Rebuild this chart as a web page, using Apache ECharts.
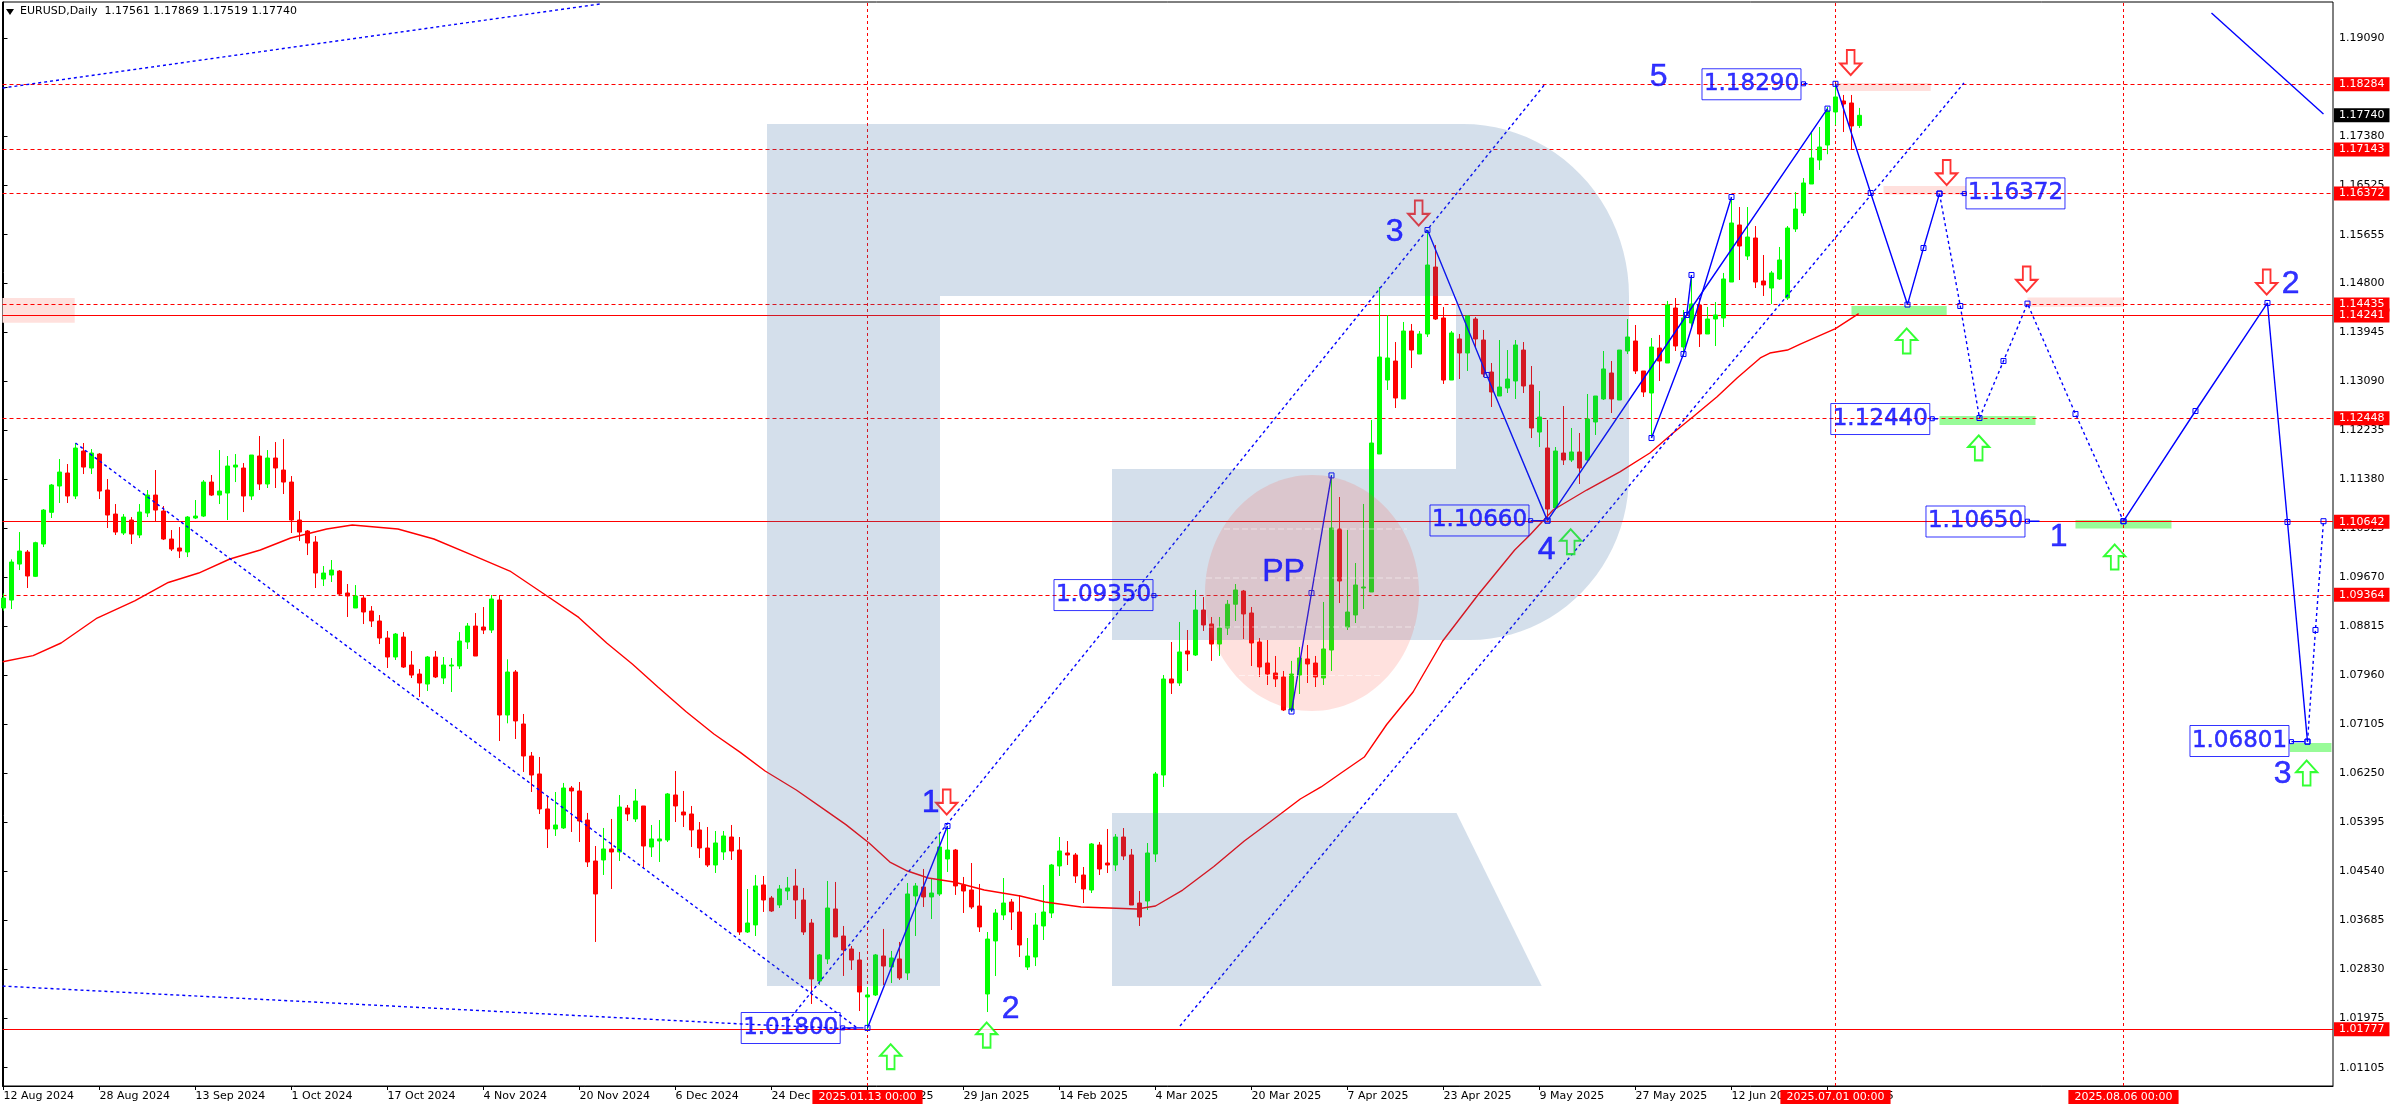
<!DOCTYPE html>
<html><head><meta charset="utf-8"><title>EURUSD,Daily</title>
<style>html,body{margin:0;padding:0;background:#fff}#c{width:2396px;height:1110px}</style>
<script src="https://cdn.jsdelivr.net/npm/echarts@6/dist/echarts.min.js"></script>
</head><body><div id="c"></div><script>
const opens=[1.09134,1.09273,1.09902,1.10112,1.09687,1.10252,1.10805,1.11265,1.11492,1.1109,
1.11876,1.11579,1.11823,1.11195,1.10775,1.10444,1.10671,1.10409,1.10793,1.11107,
1.10828,1.10339,1.10182,1.10112,1.10706,1.1074,1.11334,1.11107,1.11142,1.11596,
1.11579,1.1109,1.11789,1.113,1.11754,1.11544,1.11334,1.10671,1.10479,1.10287,
1.0964,1.0971,1.0978,1.09396,1.09134,1.09308,1.09081,1.08907,1.0861,1.08278,
1.08627,1.08138,1.07981,1.07806,1.08278,1.07911,1.08121,1.08121,1.0854,1.08819,
1.08802,1.08749,1.09274,1.07265,1.08016,1.07108,1.06549,1.06235,1.05624,1.05274,
1.05292,1.0599,1.05938,1.05431,1.04715,1.04733,1.04925,1.04873,1.0564,1.05449,
1.05676,1.0496,1.05065,1.05082,1.05868,1.05571,1.05536,1.05257,1.04942,1.04645,
1.04873,1.05134,1.04907,1.03475,1.03598,1.04296,1.04069,1.03947,1.04191,1.04279,
1.04034,1.03632,1.02619,1.03004,1.03877,1.03405,1.03178,1.02986,1.0234,1.02375,
1.03056,1.02864,1.03004,1.02759,1.04104,1.04261,1.04087,1.04139,1.0475,1.04907,
1.04296,1.04209,1.03929,1.02392,1.03318,1.03772,1.03999,1.03824,1.02863,1.03038,
1.0358,1.03807,1.04628,1.04855,1.0482,1.0447,1.04208,1.04994,1.0468,1.04645,
1.05134,1.0482,1.03981,1.04016,1.04837,1.06217,1.07894,1.07824,1.08383,1.08313,
1.09099,1.08855,1.08505,1.08785,1.0920,1.09431,1.09047,1.0854,1.08173,1.07999,
1.07929,1.07353,1.07964,1.08244,1.08173,1.07912,1.084,1.10514,1.08802,1.09012,
1.09483,1.09414,1.11824,1.13116,1.13448,1.12785,1.13972,1.1357,1.1392,1.1509,
1.142,1.13116,1.13833,1.13588,1.14182,1.13815,1.13256,1.12837,1.12977,1.13099,
1.1364,1.13029,1.12208,1.11929,1.10881,1.11841,1.11719,1.11859,1.11719,1.12383,
1.12785,1.13239,1.12767,1.13623,1.13798,1.13274,1.12889,1.13675,1.13413,1.14374,
1.13693,1.14112,1.14427,1.1392,1.14182,1.142,1.14828,1.15824,1.15282,1.15597,
1.14846,1.14723,1.14881,1.14549,1.15754,1.16034,1.1654,1.16959,1.17221,1.17798,
1.1799,1.17955,1.17561];
const highs=[1.0939,1.09984,1.10461,1.10147,1.10292,1.10863,1.113,1.11736,1.11649,1.12016,
1.12016,1.11911,1.11841,1.11387,1.1095,1.10775,1.10723,1.1095,1.11195,1.11544,
1.10915,1.10496,1.10548,1.1074,1.1102,1.11369,1.11457,1.11893,1.11789,1.11823,
1.11666,1.11806,1.12138,1.11893,1.12033,1.12085,1.11439,1.10828,1.10496,1.10391,
1.09867,1.09972,1.09797,1.09553,1.09535,1.09361,1.09168,1.09011,1.08732,1.08697,
1.08714,1.08383,1.08068,1.08295,1.08383,1.08278,1.0826,1.08714,1.08872,1.09046,
1.09151,1.09361,1.09361,1.08238,1.08051,1.07283,1.06619,1.06532,1.05833,1.0592,
1.06078,1.06025,1.06095,1.05554,1.04977,1.05292,1.05449,1.05868,1.05693,1.05973,
1.05676,1.05344,1.05431,1.05903,1.06287,1.05938,1.05676,1.05396,1.05309,1.05239,
1.05239,1.05344,1.05134,1.04226,1.04471,1.04453,1.04104,1.04296,1.04436,1.04576,
1.04244,1.03702,1.03091,1.04366,1.04349,1.0358,1.03231,1.03126,1.02515,1.03091,
1.03528,1.03144,1.03301,1.04331,1.04331,1.04576,1.04418,1.05204,1.05327,1.04925,
1.04436,1.0468,1.04314,1.03475,1.03876,1.04418,1.04051,1.04121,1.0337,1.03807,
1.04296,1.04663,1.05134,1.05064,1.04855,1.0461,1.05029,1.05047,1.05274,1.05186,
1.05291,1.04925,1.04191,1.05029,1.0627,1.07964,1.0854,1.0889,1.0875,1.09449,
1.09326,1.08977,1.08977,1.09274,1.09553,1.09449,1.09152,1.0861,1.08575,1.08296,
1.08034,1.0821,1.08453,1.08488,1.08296,1.09239,1.11457,1.11073,1.10497,1.0992,
1.10951,1.12418,1.14741,1.14252,1.1378,1.1413,1.14095,1.13972,1.15736,1.15475,
1.14392,1.13972,1.1392,1.14252,1.14217,1.1399,1.13413,1.13815,1.1364,1.13815,
1.1378,1.13361,1.12924,1.12418,1.11946,1.12662,1.12278,1.12191,1.12872,1.12837,
1.13623,1.13448,1.1364,1.14182,1.14077,1.13274,1.1385,1.13903,1.14497,1.14549,
1.14339,1.14951,1.14549,1.14392,1.14479,1.14986,1.16313,1.16138,1.16138,1.15806,
1.153,1.15021,1.1544,1.15806,1.164,1.16645,1.17448,1.17536,1.17885,1.1829,
1.18095,1.18095,1.17869];
const lows=[1.09087,1.09116,1.09797,1.09483,1.09675,1.10199,1.10706,1.10968,1.10968,1.11037,
1.11474,1.11474,1.11037,1.10531,1.10409,1.10409,1.10252,1.10356,1.10723,1.10653,
1.10321,1.10129,1.10007,1.10024,1.10688,1.10723,1.1109,1.1095,1.10671,1.11334,
1.1081,1.1102,1.11195,1.1123,1.1123,1.11125,1.10444,1.10304,1.10059,1.09483,
1.09518,1.09588,1.09343,1.08977,1.09134,1.08854,1.08802,1.08505,1.08086,1.08226,
1.08086,1.07911,1.07579,1.07684,1.07911,1.07806,1.07667,1.08068,1.08418,1.08295,
1.08679,1.08697,1.06811,1.0712,1.06846,1.0627,1.0592,1.05536,1.04942,1.05152,
1.05274,1.05222,1.05047,1.0461,1.03301,1.04471,1.04226,1.04715,1.05414,1.05396,
1.04593,1.04785,1.04698,1.05047,1.05396,1.05309,1.0496,1.04768,1.0461,1.04506,
1.04733,1.04733,1.03423,1.03458,1.03405,1.03825,1.03825,1.03894,1.04034,1.03702,
1.03423,1.02218,1.0255,1.02916,1.03388,1.02707,1.02812,1.02095,1.01764,1.02357,
1.0255,1.02584,1.02637,1.02637,1.03405,1.03912,1.03702,1.04104,1.04523,1.04122,
1.03807,1.03877,1.03475,1.02077,1.02706,1.03684,1.0351,1.03038,1.02811,1.0288,
1.03335,1.03719,1.04453,1.04645,1.04331,1.03981,1.04156,1.0447,1.04505,1.0454,
1.04732,1.03946,1.0358,1.03859,1.04697,1.06008,1.07632,1.07772,1.08034,1.08296,
1.08733,1.0821,1.08296,1.08663,1.08907,1.08593,1.08121,1.07929,1.07789,1.07754,
1.07335,1.07327,1.07632,1.07824,1.07754,1.07789,1.08034,1.09221,1.0875,1.08872,
1.09117,1.09414,1.11824,1.12942,1.12627,1.12785,1.13326,1.1357,1.13868,1.14165,
1.13047,1.13116,1.13134,1.13274,1.13693,1.13169,1.12645,1.12837,1.12889,1.12785,
1.12889,1.12103,1.11946,1.10671,1.10846,1.11632,1.11684,1.113,1.11684,1.12156,
1.12767,1.1254,1.12767,1.1357,1.13221,1.1282,1.12103,1.13099,1.13413,1.13623,
1.13536,1.14025,1.13693,1.1392,1.1371,1.14042,1.14828,1.14863,1.15213,1.14723,
1.14584,1.14444,1.14863,1.14514,1.15702,1.15981,1.1654,1.16785,1.1706,1.17571,
1.17448,1.17151,1.17519];
const closes=[1.09308,1.09937,1.10129,1.09693,1.10275,1.10845,1.11282,1.11509,1.1109,1.11928,
1.11596,1.11841,1.11177,1.10758,1.10461,1.10723,1.10426,1.1081,1.11107,1.10845,
1.10339,1.10164,1.10129,1.10723,1.1074,1.11334,1.11107,1.11177,1.11614,1.11631,
1.1109,1.11806,1.113,1.11754,1.11579,1.11334,1.10671,1.10461,1.10269,1.09745,
1.09745,1.09797,1.09378,1.09343,1.09343,1.09064,1.08907,1.0861,1.08278,1.08679,
1.08103,1.07963,1.07824,1.08278,1.07929,1.08138,1.08138,1.08557,1.08819,1.08295,
1.08749,1.09291,1.07265,1.08016,1.07161,1.06549,1.06217,1.05624,1.05274,1.05344,
1.0599,1.05938,1.05414,1.04698,1.04139,1.04925,1.04873,1.05658,1.05536,1.05763,
1.04977,1.051,1.051,1.05886,1.05676,1.05519,1.05257,1.04942,1.04645,1.0503,
1.05152,1.0489,1.03475,1.03632,1.04279,1.04034,1.03842,1.04226,1.04244,1.04034,
1.03475,1.02654,1.03074,1.03894,1.03388,1.03161,1.02986,1.02427,1.02375,1.03074,
1.02881,1.03021,1.02672,1.04139,1.04279,1.04087,1.04156,1.0496,1.04907,1.04279,
1.04191,1.03912,1.03563,1.03352,1.03807,1.03981,1.03824,1.03248,1.03055,1.03597,
1.03824,1.04645,1.0489,1.0482,1.04453,1.04226,1.05012,1.04575,1.04645,1.05134,
1.04802,1.03946,1.03736,1.04855,1.06235,1.07894,1.07824,1.08366,1.08331,1.09099,
1.08837,1.08505,1.08785,1.0920,1.09449,1.0903,1.08523,1.08104,1.07981,1.07894,
1.07353,1.07981,1.08261,1.08156,1.07929,1.08418,1.10531,1.09606,1.09064,1.09536,
1.09501,1.12016,1.13518,1.13501,1.12802,1.13972,1.1364,1.1392,1.15125,1.14182,
1.13116,1.13938,1.13588,1.14235,1.13833,1.13221,1.12907,1.12994,1.13134,1.13728,
1.13012,1.12278,1.1247,1.10863,1.11876,1.11719,1.11859,1.11579,1.12435,1.12837,
1.13309,1.12785,1.1364,1.13868,1.13274,1.12907,1.13693,1.13448,1.14427,1.1371,
1.142,1.14444,1.1392,1.14182,1.14252,1.14881,1.15859,1.15457,1.15614,1.14828,
1.14776,1.14986,1.15213,1.15771,1.16103,1.16558,1.16994,1.17186,1.17815,1.1806,
1.17937,1.17553,1.1774];

const maBars=[-0.1,3.7,7.2,11.7,16.4,20.6,24.4,28.3,32.1,35.9,40.4,43.6,49.3,53.8,58.9,63.3,67.2,71.9,75.4,78.6,81.8,85.3,88.8,92.1,95.2,99.1,102.8,105.3,108.2,110.8,113,115.6,118.8,122.6,127.1,130.2,134.7,141.7,144,147.4,151.3,155.1,158.3,162.1,164.7,167.2,170.1,172.9,176.2,179.9,184.4,188.9,190.8,193.7,197.9,202.1,205.8,208.7,211.2,214.2,216.7,219.6,220.8,223,224.6,229,231.9];
const maValues=[1.08196,1.08303,1.08523,1.08959,1.09257,1.0958,1.09745,1.0999,1.10147,1.10357,1.10514,1.10584,1.10514,1.10339,1.10042,1.0978,1.09414,1.0897,1.08523,1.08156,1.07754,1.07326,1.06933,1.06612,1.06287,1.05955,1.05595,1.05351,1.05029,1.04697,1.0454,1.04418,1.04348,1.04208,1.04104,1.03999,1.03911,1.03876,1.03929,1.04208,1.04619,1.05064,1.05396,1.05798,1.06008,1.06252,1.06531,1.07099,1.07667,1.08558,1.09379,1.10147,1.10409,1.10846,1.11195,1.11515,1.11841,1.12191,1.12475,1.12825,1.13151,1.13501,1.13588,1.1364,1.13745,1.14015,1.14276];

const yTicks=[1.01105,1.01975,1.0283,1.03685,1.0454,1.05395,1.0625,1.07105,1.0796,1.08815,1.0967,1.10525,1.1138,1.12235,1.1309,1.13945,1.148,1.15655,1.16525,1.1738,1.18235,1.1909];
const xTickBars=[0,12,24,36,48,60,72,84,96,108,120,132,144,156,168,180,192,204,216,228];
const xTickLabels=['12 Aug 2024','28 Aug 2024','13 Sep 2024','1 Oct 2024','17 Oct 2024','4 Nov 2024','20 Nov 2024','6 Dec 2024','24 Dec 2024','13 Jan 2025','29 Jan 2025','14 Feb 2025','4 Mar 2025','20 Mar 2025','7 Apr 2025','23 Apr 2025','9 May 2025','27 May 2025','12 Jun 2025','30 Jun 2025'];

const dashedLevels=[1.18284,1.17143,1.16372,1.14435,1.12448,1.09364];
const solidLevels=[1.14241,1.10642,1.01777];
const lastPrice=1.1774;
const timeLines=[[108,'2025.01.13 00:00'],[229,'2025.07.01 00:00'],[265,'2025.08.06 00:00']];

const dottedTrends=[
 [[-0.12,1.18217],[74.56,1.19684]],
 [[9,1.12016],[106.7,1.018]],
 [[-0.12,1.0253],[92.3,1.01868],[106.7,1.0178]],
 [[98.06,1.0192],[192.8,1.18304]],
 [[147.06,1.01833],[245.06,1.18304]]
];
const solidWaves=[
 [[108,1.018],[118,1.05326]],
 [[161,1.07326],[163.5,1.09396],[166,1.1145]],
 [[178,1.15736],[185.4,1.13204],[193,1.1066]],
 [[193,1.1066],[210.4,1.14252],[228,1.17857]],
 [[206,1.12103],[210,1.1357],[216,1.16313]],
 [[210.4,1.14252],[211,1.14951]],
 [[229,1.1829],[233.4,1.16383],[238,1.14434],[240,1.15422],[242,1.16372]],
 [[265,1.1065],[274,1.12575],[283,1.14462],[285.5,1.10636],[288,1.068]]
];
const dottedWaves=[
 [[242,1.16372],[244.6,1.14409],[247,1.12453],[250,1.13448],[253,1.14451],[259,1.12523],[265,1.1065]],
 [[288,1.068],[289,1.0875],[290,1.1065]]
];
const plainSolid=[[276,1.19527],[290,1.17763]];
const leaders=[
 [[104.9,1.018],[107.5,1.018]],[[143.8,1.0935],[144.3,1.0935]],[[190.9,1.1066],[192.7,1.1066]],
 [[225,1.1829],[225.5,1.1829]],[[245.1,1.16372],[244.6,1.16372]],[[241.1,1.1244],[241.8,1.1244]],
 [[253,1.1065],[254.5,1.1065]],[[286,1.068],[287.6,1.068]]
];
const priceBoxes=[['1.01800',98.4,1.01798],['1.09350',137.5,1.0936],['1.10660',184.5,1.10663],['1.18290',218.5,1.18282],['1.16372',251.5,1.16376],['1.12440',234.6,1.12435],['1.10650',246.5,1.10645],['1.06801',279.5,1.06811]];
const waveTexts=[['1',115.9,1.05733],['2',125.9,1.02123],['PP',160,1.09766],['3',173.9,1.15702],['4',192.9,1.10147],['5',206.9,1.18413],['1',256.9,1.10365],['2',285.9,1.14783],['3',284.9,1.06235]];
const downArrows=[[117.9,1.05746],[176.9,1.16034],[230.9,1.18662],[242.9,1.16741],[252.9,1.14881],[282.9,1.14828]];
const upArrows=[[110.9,1.01297],[122.9,1.01675],[195.9,1.10292],[237.9,1.13798],[246.9,1.11931],[263.9,1.10025],[287.9,1.06252]];
const pinkZones=[[-0.2,8.9,1.14549,1.14117],[229,240.9,1.18304,1.18164],[235,245.3,1.16505,1.16355],[253,265,1.14558,1.14395]];
const greenZones=[[231,242.9,1.14409,1.14252],[242,254,1.12488,1.12331],[259,271,1.10671,1.10521],[285.8,291,1.06776,1.06619]];

const BLUE='#0000ff',RED='#ff0000',GREEN='#00ff00',MONO='"DejaVu Sans"';
const candleData=opens.map((o,i)=>[i,o,closes[i],lows[i],highs[i]]);
const tagStyle=(bg)=>({show:true,position:'end',distance:1,color:'#fff',backgroundColor:bg,fontFamily:MONO,fontSize:11,padding:[1,5,1,5],lineHeight:12,formatter:p=>p.value.toFixed(5)});
const levelItem=(v,dash)=>({yAxis:v,lineStyle:{color:RED,width:1.2,type:dash?[4,3]:'solid'},label:tagStyle(RED)});
const zone=(z,c)=>[{xAxis:z[0],yAxis:z[2],itemStyle:{color:c,opacity:1}},{xAxis:z[1],yAxis:z[3]}];
const lineOf=(pts,dash,mark)=>({type:'line',data:pts,z:4,silent:true,animation:false,
 lineStyle:{color:BLUE,width:1.4,type:dash?[3,3]:'solid'},
 showSymbol:!!mark,symbol:'rect',symbolSize:5,
 itemStyle:{color:'rgba(0,0,0,0)',borderColor:BLUE,borderWidth:1},emphasis:{disabled:true}});
const textSeries=(rows,label)=>({type:'scatter',symbolSize:1,z:60,silent:true,
 itemStyle:{color:'rgba(0,0,0,0)'},
 data:rows.map(r=>({name:r[0],value:[r[1],r[2]]})),
 label:Object.assign({show:true,position:'inside',formatter:'{b}',color:BLUE,textBorderColor:BLUE,textBorderWidth:0.5},label)});
const arrowSeries=(pts,path,color)=>({type:'scatter',symbol:path,symbolSize:[21,25],z:5,silent:true,data:pts,
 itemStyle:{color:'#ffffff',borderColor:color,borderWidth:2}});

const arc=(cx,cy,rx,ry,a0,a1)=>{const o=[];for(let k=0;k<=24;k++){const a=(a0+(a1-a0)*k/24)*Math.PI/180;o.push([cx+rx*Math.cos(a),cy+ry*Math.sin(a)]);}return o;};
const rBody=[[767,124],...arc(1463,296,166,172,-90,0),...arc(1470,475,159,165,0,90),[1112,640],[1112,469],[1456,469],[1456,296],[940,296],[940,986],[767,986]];
const wm=[{type:'polygon',z:50,silent:true,shape:{points:rBody},style:{fill:'rgba(60,110,165,0.22)'}},
 {type:'polygon',z:50,silent:true,shape:{points:[[1112,813],[1456.5,813],[1541.7,986],[1112,986]]},style:{fill:'rgba(60,110,165,0.22)'}},
 {type:'ellipse',z:51,silent:true,shape:{cx:1312,cy:593,rx:107,ry:118},style:{fill:'rgba(255,70,50,0.16)'}},
 {type:'polygon',z:60,silent:true,shape:{points:[[6,9],[14,9],[10,15]]},style:{fill:'#000'}}];
[[529,1224,1407],[578,1206,1418],[627,1207,1415],[675.5,1239,1382]].forEach(g=>wm.push({type:'line',z:52,silent:true,shape:{x1:g[1],y1:g[0],x2:g[2],y2:g[0]},style:{stroke:'rgba(255,255,255,0.5)',lineWidth:1,lineDash:[6,3]}}));

const option={animation:false,backgroundColor:'#fff',
 title:{text:'EURUSD,Daily  1.17561 1.17869 1.17519 1.17740',left:20,top:6,padding:0,textStyle:{fontFamily:MONO,fontSize:11,fontWeight:'normal',color:'#000'}},
 grid:{left:2.5,top:2,width:2330.5,height:1084,show:true,borderColor:'#000',borderWidth:1,backgroundColor:'rgba(0,0,0,0)'},
 xAxis:{type:'value',min:-0.125,max:291.19,splitLine:{show:false},
  axisLine:{show:true,lineStyle:{color:'#000',width:1}},
  axisTick:{show:true,length:4,lineStyle:{color:'#000'},customValues:xTickBars},
  axisLabel:{customValues:xTickBars,align:'left',margin:5,color:'#000',fontFamily:MONO,fontSize:11,hideOverlap:false,formatter:v=>xTickLabels[xTickBars.indexOf(v)]||''}},
 yAxis:{type:'value',position:'right',min:1.00785,max:1.19719,scale:true,splitLine:{show:false},
  axisLine:{show:true,lineStyle:{color:'#000',width:1}},
  axisTick:{show:true,length:4,lineStyle:{color:'#000'},customValues:yTicks},
  axisLabel:{customValues:yTicks,margin:6,color:'#000',fontFamily:MONO,fontSize:11,hideOverlap:false,formatter:v=>v.toFixed(5)}},
 graphic:wm,
 series:[
  {type:'line',name:'zones',data:[],z:1,silent:true,
   markArea:{silent:true,z:1,precision:5,data:pinkZones.map(z=>zone(z,'#ffe0dd')).concat(greenZones.map(z=>zone(z,'#98fb98')))}},
  {type:'candlestick',name:'EURUSD',z:3,silent:true,barWidth:4,data:candleData,encode:{x:0,y:[1,2,3,4]},
   itemStyle:{color:GREEN,color0:RED,borderColor:GREEN,borderColor0:RED,borderWidth:1}},
  {type:'line',name:'MA',z:4,silent:true,showSymbol:false,data:maBars.map((b,i)=>[b,maValues[i]]),
   lineStyle:{color:RED,width:1.4},
   markLine:{silent:true,symbol:'none',z:2,precision:5,animation:false,data:
    dashedLevels.map(v=>levelItem(v,true)).concat(solidLevels.map(v=>levelItem(v,false))).concat(
     [{yAxis:lastPrice,lineStyle:{width:0,color:'rgba(0,0,0,0)'},label:tagStyle('#000')}],
     timeLines.map(t=>({xAxis:t[0],lineStyle:{color:RED,width:1,type:[3,3]},
      label:{show:true,position:'start',distance:4,formatter:t[1],color:'#fff',backgroundColor:RED,fontFamily:MONO,fontSize:11,padding:[1,6,1,6],lineHeight:12}})))}},
  ...dottedTrends.map(p=>lineOf(p,true,false)),
  ...solidWaves.map(p=>lineOf(p,false,true)),
  ...dottedWaves.map(p=>lineOf(p,true,true)),
  lineOf(plainSolid,false,false),
  ...leaders.map(p=>Object.assign(lineOf(p,false,true),{symbol:(v,a)=>a.dataIndex===0?'rect':'none',symbolSize:4})),
  textSeries(priceBoxes,{fontFamily:MONO,fontSize:23,width:99,height:31,lineHeight:31,align:'center',verticalAlign:'middle',borderColor:BLUE,borderWidth:1}),
  textSeries(waveTexts,{fontFamily:'"Liberation Sans"',fontSize:32}),
  arrowSeries(downArrows,'path://M7,0 L15,0 L15,14 L22,14 L11,26 L0,14 L7,14 Z',RED),
  arrowSeries(upArrows,'path://M11,0 L22,12 L15,12 L15,26 L7,26 L7,12 L0,12 Z',GREEN)
 ]};
echarts.init(document.getElementById('c')).setOption(option);
</script></body></html>
